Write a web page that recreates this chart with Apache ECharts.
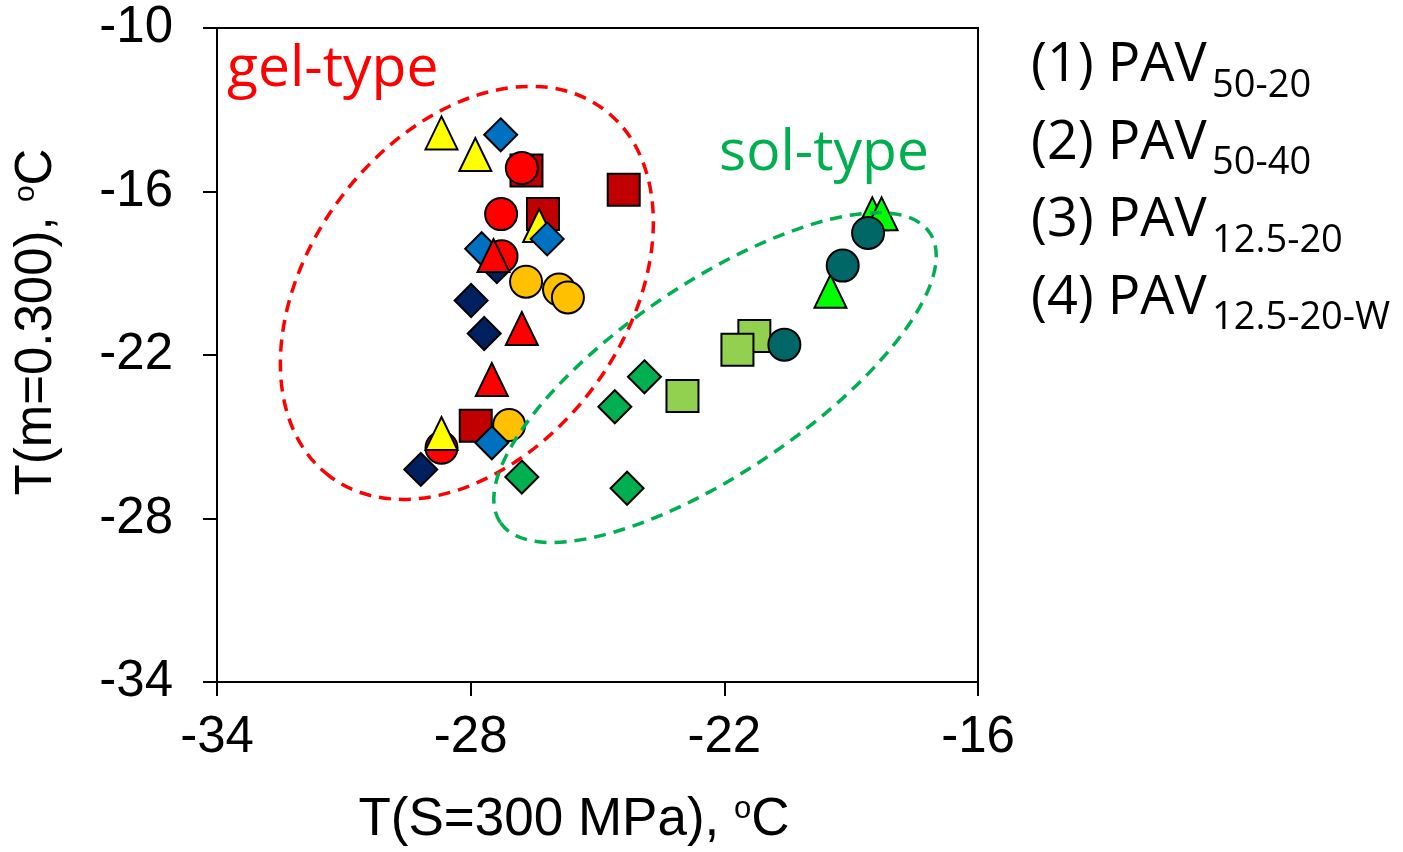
<!DOCTYPE html>
<html>
<head>
<meta charset="utf-8">
<script src="https://cdn.jsdelivr.net/npm/echarts@6/dist/echarts.min.js"></script>
<style>
  html, body { margin: 0; padding: 0; background: #ffffff; }
  #chart { width: 1403px; height: 852px; }
</style>
</head>
<body>
<div id="chart"></div>
<script>
// Axis ticks
const xTicks = [-34, -28, -22, -16];
const yTicks = [-34, -28, -22, -16, -10];

// Binder groups: [T(S=300 MPa), T(m=0.300)] in degC, one point per ageing condition
// gel-type binders
const navyDiamond    = [[-27.38, -18.76], [-27.99, -20.00], [-27.68, -21.21], [-29.18, -26.20]];
const darkRedSquare  = [[-26.68, -15.23], [-24.38, -15.94], [-26.29, -16.83], [-27.88, -24.60]];
const orangeCircle   = [[-26.69, -19.31], [-25.91, -19.60], [-25.70, -19.89], [-27.09, -24.57]];
const redCircle      = [[-26.79, -15.14], [-27.28, -16.83], [-27.27, -18.38], [-28.69, -25.40]];
const yellowTriangle = [[-28.69, -13.85], [-27.89, -14.64], [-26.38, -17.25], [-28.69, -24.88]];
const blueDiamond    = [[-27.29, -13.92], [-26.19, -17.74], [-27.74, -18.10], [-27.50, -25.22]];
const redTriangle    = [[-27.46, -18.35], [-26.79, -21.03], [-27.50, -22.90]];
// sol-type binders
const limeTriangle     = [[-18.50, -16.82], [-18.28, -16.82], [-19.49, -19.66]];
const lightGreenSquare = [[-21.29, -21.30], [-21.69, -21.81], [-22.99, -23.50]];
const tealCircle       = [[-18.60, -17.52], [-19.20, -18.72], [-20.58, -21.62]];
const greenDiamond     = [[-23.89, -22.80], [-24.59, -23.90], [-26.79, -26.48], [-24.30, -26.89]];

// Ageing condition labels
const conditionMain = ['(1) PAV', '(2) PAV', '(3) PAV', '(4) PAV'];
const conditionSub  = ['50-20', '50-40', '12.5-20', '12.5-20-W'];

// Group outlines: centre in data units
const gelCentre = [-28.09, -19.72];
const solCentre = [-22.22, -22.83];

const chart = echarts.init(document.getElementById('chart'), null, { renderer: 'canvas' });

function scatter(name, data, symbol, color, size) {
  return {
    name: name,
    type: 'scatter',
    data: data,
    symbol: symbol,
    symbolSize: size,
    itemStyle: { color: color, borderColor: '#000000', borderWidth: 2, opacity: 1 },
    emphasis: { disabled: true },
    animation: false
  };
}

const axisFont = 'Liberation Sans, Arial, sans-serif';

const option = {
  backgroundColor: '#ffffff',
  animation: false,
  grid: {
    left: 217, right: 425, top: 28, bottom: 169,
    show: true, borderColor: '#000000', borderWidth: 2, backgroundColor: 'transparent'
  },
  xAxis: {
    type: 'value', min: -34, max: -16,
    axisLine: { show: true, onZero: false, lineStyle: { color: '#000', width: 2 } },
    axisTick: { show: true, inside: false, length: 14, customValues: xTicks, lineStyle: { color: '#000', width: 2 } },
    axisLabel: { customValues: xTicks, fontSize: 51, fontFamily: axisFont, color: '#000', margin: 30 },
    splitLine: { show: false },
    name: '{a|T(S=300 MPa), }{s|o}{a|C}',
    nameLocation: 'middle',
    nameGap: 112,
    nameTextStyle: {
      padding: [0, 47, 0, 0],
      rich: {
        a: { fontSize: 53, fontFamily: axisFont, color: '#000', lineHeight: 58, verticalAlign: 'top' },
        s: { fontSize: 31, fontFamily: axisFont, color: '#000', lineHeight: 31, verticalAlign: 'top' }
      }
    }
  },
  yAxis: {
    type: 'value', min: -34, max: -10,
    axisLine: { show: true, onZero: false, lineStyle: { color: '#000', width: 2 } },
    axisTick: { show: true, inside: false, length: 14, customValues: yTicks, lineStyle: { color: '#000', width: 2 } },
    axisLabel: { customValues: yTicks, fontSize: 51, fontFamily: axisFont, color: '#000', margin: 44 },
    splitLine: { show: false },
    name: '{a|T(m=0.300), }{s|o}{a|C}',
    nameLocation: 'middle',
    nameGap: 150,
    nameRotate: 90,
    nameTextStyle: {
      padding: [0, 0, 0, 66],
      rich: {
        a: { fontSize: 51, fontFamily: axisFont, color: '#000', lineHeight: 56, verticalAlign: 'top' },
        s: { fontSize: 30, fontFamily: axisFont, color: '#000', lineHeight: 30, verticalAlign: 'top' }
      }
    }
  },
  series: [
    scatter('Binder G1', navyDiamond, 'diamond', '#002060', 33),
    scatter('Binder G2', darkRedSquare, 'rect', '#C00000', 32),
    scatter('Binder G3', orangeCircle, 'circle', '#FFC000', 32),
    scatter('Binder G4', redCircle, 'circle', '#FF0000', 32),
    scatter('Binder G5', yellowTriangle, 'triangle', '#FFFF00', [32, 33]),
    scatter('Binder G6', blueDiamond, 'diamond', '#0070C0', 33),
    scatter('Binder G7', redTriangle, 'triangle', '#FF0000', [32, 33]),
    scatter('Binder S1', limeTriangle, 'triangle', '#00FF00', [32, 33]),
    scatter('Binder S2', lightGreenSquare, 'rect', '#92D050', 32),
    scatter('Binder S3', tealCircle, 'circle', '#006666', 32),
    scatter('Binder S4', greenDiamond, 'diamond', '#00B050', 33)
  ]
};

chart.setOption(option);

// Dashed outlines for the two binder groups plus the text annotations
const gelPx = chart.convertToPixel({ gridIndex: 0 }, gelCentre);
const solPx = chart.convertToPixel({ gridIndex: 0 }, solCentre);

const graphics = [
  {
    type: 'ellipse', z: 100, silent: true,
    x: gelPx[0], y: gelPx[1], rotation: 53.3 * Math.PI / 180,
    shape: { cx: 0, cy: 0, rx: 229, ry: 158 },
    style: { fill: 'none', stroke: '#FF0000', lineWidth: 3.5, lineDash: [12, 8] }
  },
  {
    type: 'ellipse', z: 100, silent: true,
    x: solPx[0], y: solPx[1], rotation: 34 * Math.PI / 180,
    shape: { cx: 0, cy: 0, rx: 259, ry: 95 },
    style: { fill: 'none', stroke: '#00B050', lineWidth: 3.5, lineDash: [12, 8] }
  },
  {
    type: 'text', z: 100, left: 227, top: 41,
    style: { text: 'gel-type', fill: '#FF0000', font: '57px "Open Sans", sans-serif' }
  },
  {
    type: 'text', z: 100, left: 719, top: 125,
    style: { text: 'sol-type', fill: '#00B050', font: '57px "Open Sans", sans-serif' }
  }
];

const lineStep = 77.5;
conditionMain.forEach(function (txt, i) {
  graphics.push({
    type: 'text', z: 100, left: 1031, top: 39 + i * lineStep,
    style: { text: txt, fill: '#000', font: '54px "Open Sans", sans-serif' }
  });
  graphics.push({
    type: 'text', z: 100, left: 1212, top: 67 + i * lineStep,
    style: { text: conditionSub[i], fill: '#000', font: '38px "Open Sans", sans-serif' }
  });
});

chart.setOption({ graphic: graphics });
</script>
</body>
</html>
